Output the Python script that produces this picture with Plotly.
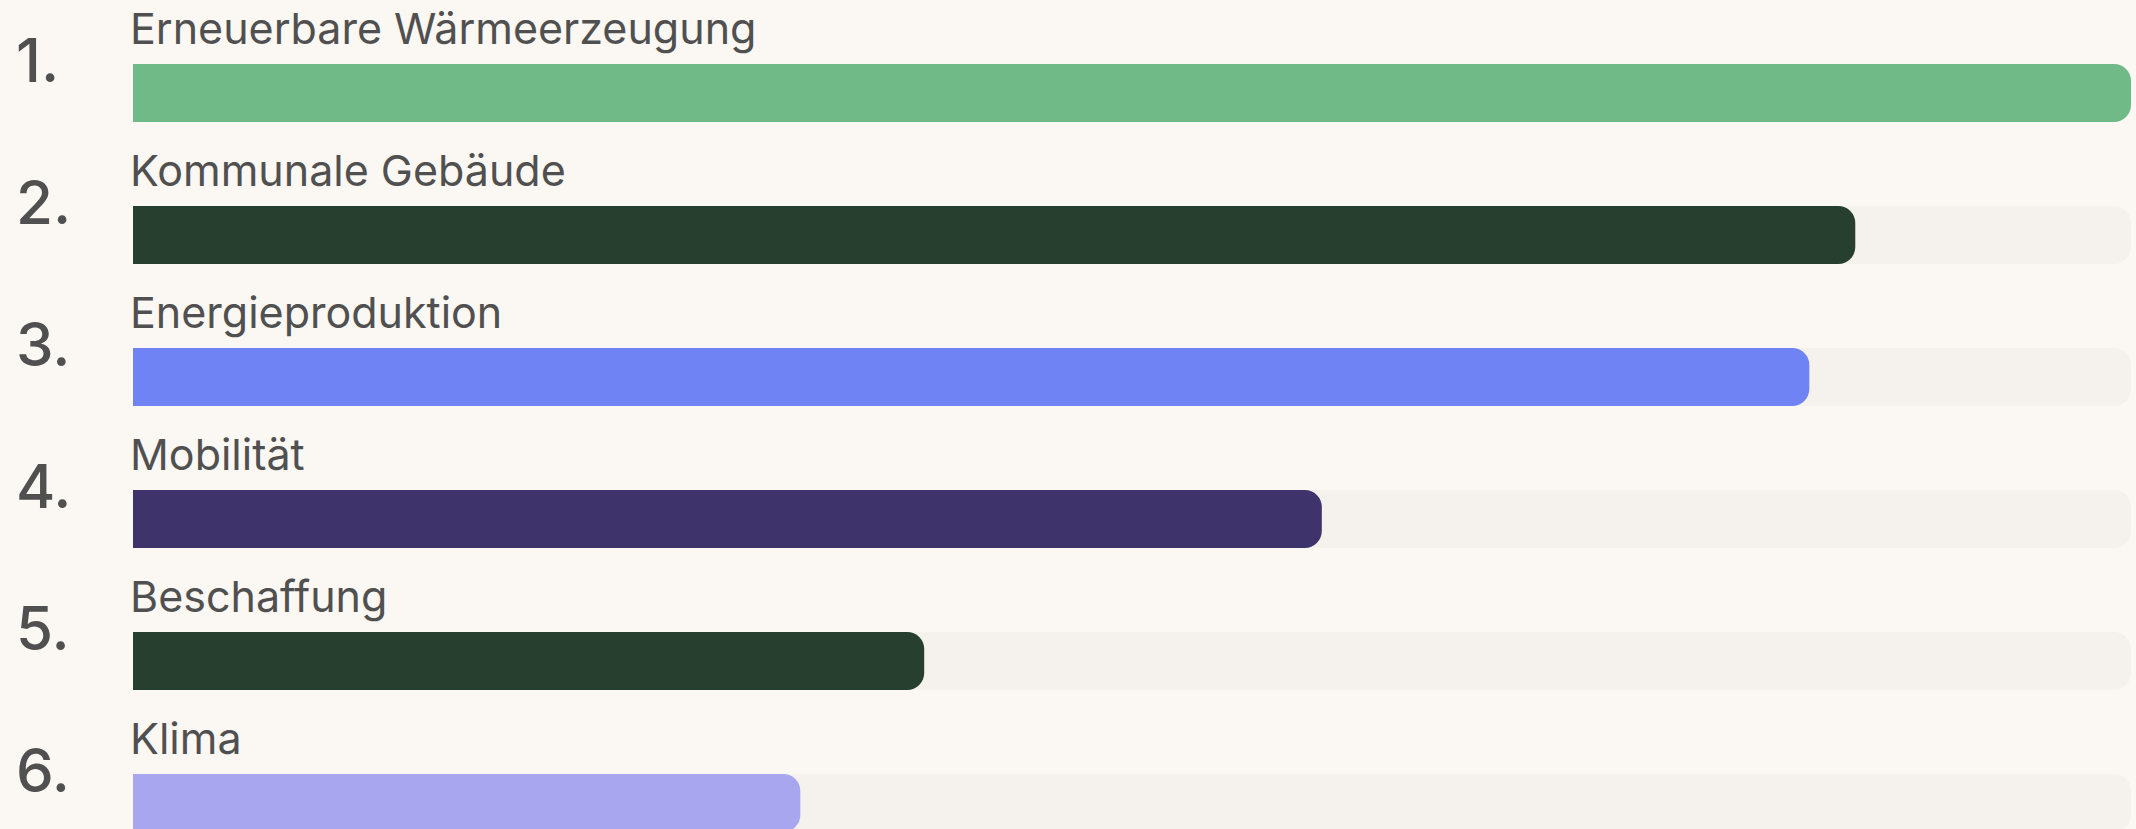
import plotly.graph_objects as go

categories = ["Erneuerbare Wärmeerzeugung", "Kommunale Gebäude", "Energieproduktion",
              "Mobilität", "Beschaffung", "Klima"]
ranks = ["1.", "2.", "3.", "4.", "5.", "6."]
values = [100, 86.2, 83.9, 59.5, 39.6, 33.4]
max_value = 100
colors = ["#6FBA87", "#263F2F", "#7083F5", "#3E346B", "#263F2F", "#A7A6EE"]

BG = "#FBF7F3"
TRACK = "#F5F1EC"
TEXT = "#505050"

ypos = list(range(len(categories)))

fig = go.Figure()
# background track (on base x-axis)
fig.add_trace(go.Bar(
    x=[max_value] * len(categories), y=ypos, orientation="h",
    marker=dict(color=TRACK, line=dict(width=0), cornerradius=17),
    width=0.408, hoverinfo="skip", showlegend=False, xaxis="x", yaxis="y",
))
# value bars (on overlaying x-axis so they are rounded independently)
fig.add_trace(go.Bar(
    x=values, y=ypos, orientation="h",
    marker=dict(color=colors, line=dict(width=0), cornerradius=17),
    width=0.408, showlegend=False, xaxis="x2", yaxis="y",
))

for i, (cat, rk) in enumerate(zip(categories, ranks)):
    fig.add_annotation(x=0, xref="paper", y=i, yref="y", text=cat,
                       xanchor="left", yanchor="middle", yshift=65, xshift=-4,
                       showarrow=False, borderpad=0,
                       font=dict(family="Inter", size=43, color=TEXT))
    fig.add_annotation(x=-117 / 1998, xref="paper", y=i, yref="y", text=rk,
                       xanchor="left", yanchor="middle", yshift=33, xshift=-2,
                       showarrow=False,
                       font=dict(family="Inter", size=60, color=TEXT, weight=500))

fig.update_layout(
    width=2136, height=829,
    margin=dict(l=133, r=5, t=0, b=0),
    paper_bgcolor=BG, plot_bgcolor=BG,
    barmode="overlay",
    xaxis=dict(range=[0, max_value], visible=False, fixedrange=True),
    xaxis2=dict(range=[0, max_value], visible=False, fixedrange=True,
                overlaying="x", anchor="y"),
    yaxis=dict(range=[5.183, -0.655], visible=False, fixedrange=True),
)

fig.write_html("out.html", config={"displayModeBar": False})
